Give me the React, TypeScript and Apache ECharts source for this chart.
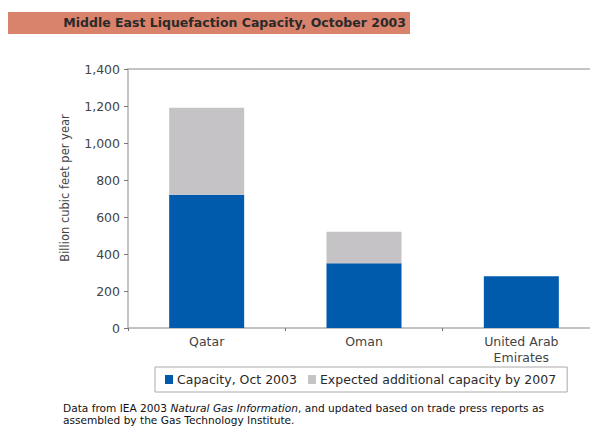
import React, { useEffect, useRef } from "react";
import * as echarts from "echarts";

const categories = ["Qatar", "Oman", "United Arab\nEmirates"];
const capacity2003 = [720, 350, 280];
const additional2007 = [470, 170, 0];
const seriesNames = ["Capacity, Oct 2003", "Expected additional capacity by 2007"];
const titleText = "Middle East Liquefaction Capacity, October 2003";
const yAxisName = "Billion cubic feet per year";

const FONT = "'DejaVu Sans', Verdana, sans-serif";

export default function App() {
  const ref = useRef<HTMLDivElement>(null);
  useEffect(() => {
    if (!ref.current) return;
    const chart = echarts.init(ref.current, undefined, { renderer: "svg" });
    chart.setOption({
      animation: false,
      textStyle: { fontFamily: FONT },
      grid: { left: 128, width: 472, top: 69, bottom: 98, containLabel: false, outerBoundsMode: "none" },
      legend: {
        left: 155,
        top: 367,
        itemWidth: 8,
        itemHeight: 9,
        itemGap: 11,
        padding: [6, 11, 6, 10],
        borderColor: "#aaaaaa",
        borderWidth: 1,
        icon: "rect",
        textStyle: { fontSize: 12.5, color: "#2a2a2a", fontFamily: FONT, padding: [0, 0, 0, -1] },
        data: seriesNames,
      },
      xAxis: [
        {
          type: "category",
          data: categories,
          axisLine: { lineStyle: { color: "#b0b0b0", width: 1.5 } },
          axisTick: { show: true, length: 3, lineStyle: { color: "#777" } },
          axisLabel: { fontSize: 12.5, color: "#444", lineHeight: 16, margin: 5, fontFamily: FONT },
        },
        {
          type: "category",
          position: "top",
          data: categories,
          axisLine: { show: true, lineStyle: { color: "#b0b0b0", width: 1.5 } },
          axisTick: { show: false },
          axisLabel: { show: false },
        },
      ],
      yAxis: {
        type: "value",
        min: 0,
        max: 1400,
        interval: 200,
        axisLine: { show: true, lineStyle: { color: "#b0b0b0", width: 1.5 } },
        axisTick: { show: true, length: 4, lineStyle: { color: "#777" } },
        splitLine: { show: false },
        axisLabel: {
          fontSize: 12.5,
          color: "#444",
          margin: 8,
          fontFamily: FONT,
          formatter: (v: number) => v.toLocaleString("en-US"),
        },
      },
      series: [
        {
          name: seriesNames[0],
          type: "bar",
          stack: "total",
          data: capacity2003,
          barWidth: 75,
          itemStyle: { color: "#005bac" },
        },
        {
          name: seriesNames[1],
          type: "bar",
          stack: "total",
          data: additional2007,
          barWidth: 75,
          itemStyle: { color: "#c5c3c6" },
        },
      ],
      graphic: [
        {
          type: "rect",
          left: 8,
          top: 12,
          shape: { width: 402, height: 22 },
          style: { fill: "#d9826c" },
          z: 0,
        },
        {
          type: "text",
          right: 590 - 406,
          top: 16,
          style: {
            text: titleText,
            font: `bold 12.5px ${FONT}`,
            fill: "#2a2a2a",
          },
          z: 1,
        },
        {
          type: "text",
          x: 65,
          y: 188,
          rotation: Math.PI / 2,
          style: {
            text: yAxisName,
            font: `11.5px ${FONT}`,
            fill: "#444",
            align: "center",
            verticalAlign: "middle",
          },
        },
        {
          type: "text",
          left: 63,
          top: 402,
          style: {
            rich: {
              n: { fontSize: 10.6, fontFamily: FONT, fill: "#111", lineHeight: 12 },
              i: { fontSize: 10.6, fontFamily: FONT, fontStyle: "italic", fill: "#111", lineHeight: 12 },
            },
            text:
              "{n|Data from IEA 2003 }{i|Natural Gas Information}{n|, and updated based on trade press reports as}\n{n|assembled by the Gas Technology Institute.}",
          },
        },
      ],
    });
    return () => chart.dispose();
  }, []);
  return <div ref={ref} style={{ width: 590, height: 426, position: "absolute", left: 0, top: 0 }} />;
}
